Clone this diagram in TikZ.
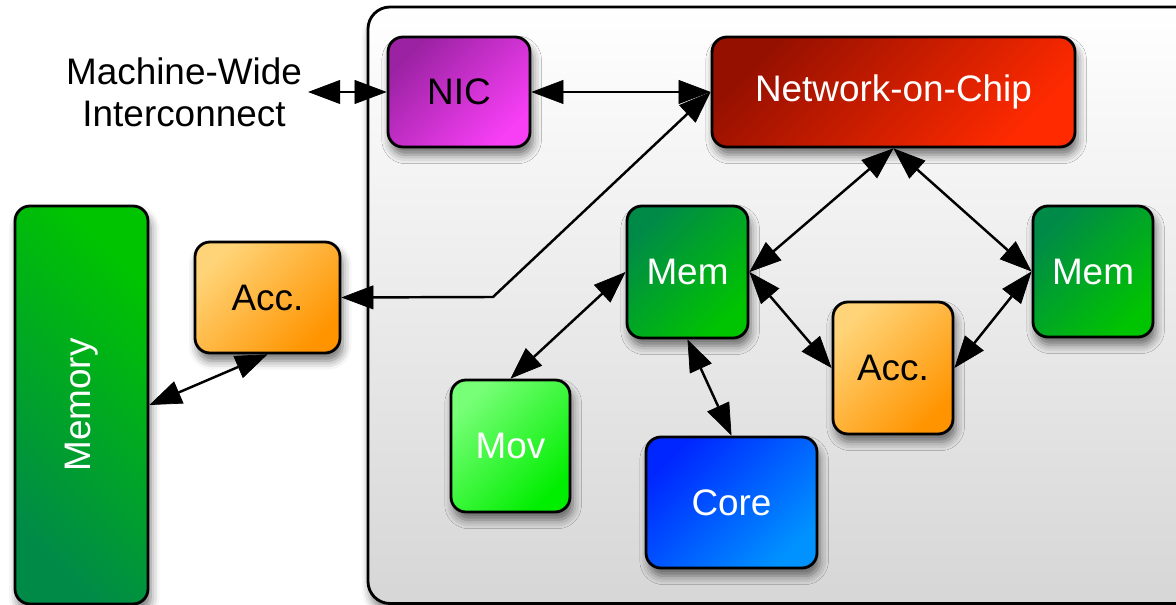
\documentclass[tikz,border=0pt]{standalone}
\usepackage{fontspec}
\setmainfont{Liberation Sans}
\usetikzlibrary{arrows.meta,shadows.blur}

\definecolor{nicdark}{HTML}{9B22A3}
\definecolor{niclight}{HTML}{F83FF6}
\definecolor{nocdark}{HTML}{961000}
\definecolor{noclight}{HTML}{FF2A00}
\definecolor{memdark}{HTML}{008A48}
\definecolor{memlight}{HTML}{00C400}
\definecolor{acclight}{HTML}{FFD478}
\definecolor{accdark}{HTML}{FF9400}
\definecolor{movlight}{HTML}{78FF78}
\definecolor{movdark}{HTML}{00EE00}
\definecolor{coredark}{HTML}{0026FF}
\definecolor{corelight}{HTML}{0092FF}

\begin{document}
\begin{tikzpicture}[
		>={Triangle[length=0.64cm,width=0.48cm,fill=black,line width=0.4pt]},
		link/.style={<->, line width=1.4pt, draw opacity=1, fill opacity=1},
		softshadow/.style={blur shadow={shadow xshift=1.5pt, shadow yshift=-4.5pt, shadow blur radius=5pt, shadow opacity=55}},
		unit/.style n args={4}{draw=black, line width=1.6pt, rounded corners=0.3cm, inner sep=0pt,
			minimum width=#1, minimum height=#2, top color=#3, bottom color=#4, shading angle=45,
			font=\fontsize{21}{25}\selectfont, softshadow}
	]
		\useasboundingbox (0, 0) rectangle (23.52, 12.1);
		% the chip, its right side runs off the page
		\draw [line width=1.6pt, rounded corners=0.44cm, top color=white, bottom color=black!16, softshadow] (7.36, 0.03) rectangle (25.0, 11.96);

		% off-chip parts
		\node [align=center, font=\fontsize{21}{24}\selectfont] (wide) at (3.68, 10.26) {Machine-Wide\\Interconnect};
		\node [unit={2.66cm}{7.96cm}{memlight}{memdark}, shading angle=-45, text=white] (memory) at (1.63, 4.0) {\rotatebox{90}{Memory}};
		\node [unit={2.9cm}{2.22cm}{acclight}{accdark}] (acca) at (5.35, 6.15) {Acc.};

		% on-chip parts
		\node [unit={2.84cm}{2.2cm}{nicdark}{niclight}] (nic) at (9.18, 10.26) {NIC};
		\node [unit={7.26cm}{2.2cm}{nocdark}{noclight}, text=white] (noc) at (17.87, 10.26) {Network-on-Chip};
		\node [unit={2.42cm}{2.64cm}{memdark}{memlight}, text=white] (mema) at (13.75, 6.66) {Mem};
		\node [unit={2.4cm}{2.62cm}{memdark}{memlight}, text=white] (memb) at (21.86, 6.67) {Mem};
		\node [unit={2.4cm}{2.64cm}{acclight}{accdark}] (accb) at (17.86, 4.74) {Acc.};
		\node [unit={2.38cm}{2.64cm}{movlight}{movdark}, text=white] (mov) at (10.21, 3.18) {Mov};
		\node [unit={3.42cm}{2.62cm}{coredark}{corelight}, text=white] (core) at (14.63, 2.05) {Core};

		% links
		\coordinate (bend) at (9.86, 6.16);
		\draw [link] (wide.east) -- (nic.west);
		\draw [link] (nic.east) -- (noc.west);
		\draw [link] (acca.east) -- (bend) -- (noc.west);
		\draw [link] (memory.east) -- (acca.south);
		\draw [link] (noc.south) -- (mema.east);
		\draw [link] (noc.south) -- (memb.west);
		\draw [link] (mema.west) -- (mov.north);
		\draw [link] (mema.south) -- (core.north);
		\draw [link] (mema.east) -- (accb.west);
		\draw [link] (memb.west) -- (accb.east);
	\end{tikzpicture}
\end{document}
